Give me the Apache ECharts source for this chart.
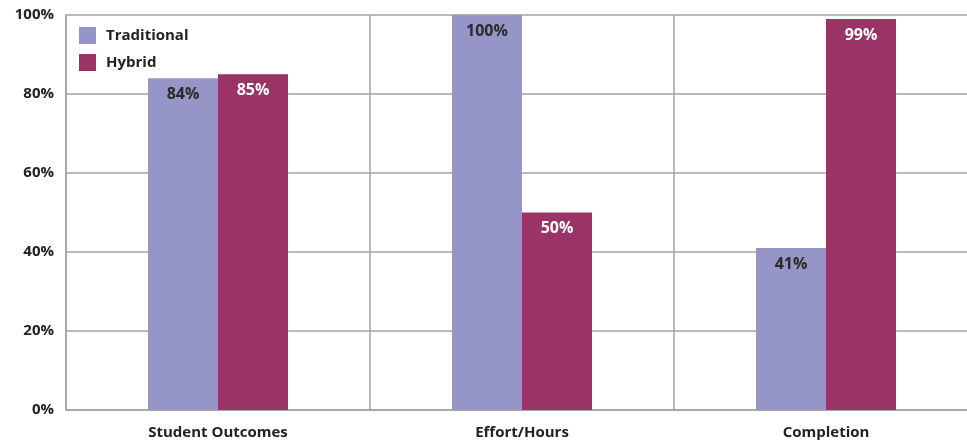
<!DOCTYPE html>
<html>
<head>
<meta charset="utf-8">
<script src="https://cdn.jsdelivr.net/npm/echarts@6/dist/echarts.min.js"></script>
<style>
  html, body { margin: 0; padding: 0; background: #fff; }
  #main { width: 967px; height: 440px; }
</style>
</head>
<body>
<div id="main"></div>
<script>
// data
const categories = ['Student Outcomes', 'Effort/Hours', 'Completion'];
const traditional = [84, 100, 41];
const hybrid = [85, 50, 99];
const yTicks = [0, 20, 40, 60, 80, 100];

const FONT = '"Open Sans", "Noto Sans", sans-serif';
const GRID_COLOR = '#a3a3a3';

const chart = echarts.init(document.getElementById('main'), null, { renderer: 'canvas' });

function labelStyle(color) {
  return {
    show: true,
    position: 'insideTop',
    distance: 8,
    formatter: '{c}%',
    color: color,
    fontFamily: FONT,
    fontWeight: 'bold',
    fontSize: 16
  };
}

const option = {
  animation: false,
  textStyle: { fontFamily: FONT },
  // the plot runs past the right edge of the picture
  grid: { left: 66, top: 15, width: 912, height: 395, containLabel: false, outerBoundsMode: 'none' },
  legend: {
    left: 79,
    top: 27,
    padding: 0,
    orient: 'vertical',
    itemWidth: 17,
    itemHeight: 17,
    itemGap: 10,
    icon: 'rect',
    textStyle: { color: '#222', fontWeight: 'bold', fontSize: 15, fontFamily: FONT, padding: [0, 0, 0, 5] }
  },
  xAxis: {
    type: 'category',
    data: categories,
    axisTick: { show: false },
    axisLine: { lineStyle: { color: GRID_COLOR, width: 1.5 } },
    splitLine: { show: true, lineStyle: { color: GRID_COLOR, width: 1.5 } },
    axisLabel: { color: '#222', fontWeight: 'bold', fontSize: 15, margin: 15, fontFamily: FONT }
  },
  yAxis: {
    type: 'value',
    min: yTicks[0],
    max: yTicks[yTicks.length - 1],
    interval: 20,
    axisLine: { show: true, lineStyle: { color: GRID_COLOR, width: 1.5 } },
    axisTick: { show: false },
    splitLine: { lineStyle: { color: GRID_COLOR, width: 1.5 } },
    axisLabel: { formatter: '{value}%', color: '#222', fontWeight: 'bold', fontSize: 15, margin: 12, fontFamily: FONT }
  },
  series: [
    {
      name: 'Traditional',
      type: 'bar',
      data: traditional,
      barWidth: 70,
      barGap: '0%',
      itemStyle: { color: '#9595c8' },
      label: labelStyle('#2a2a2a')
    },
    {
      name: 'Hybrid',
      type: 'bar',
      data: hybrid,
      barWidth: 70,
      itemStyle: { color: '#9a3366' },
      label: labelStyle('#ffffff')
    }
  ]
};

chart.setOption(option);
</script>
</body>
</html>
